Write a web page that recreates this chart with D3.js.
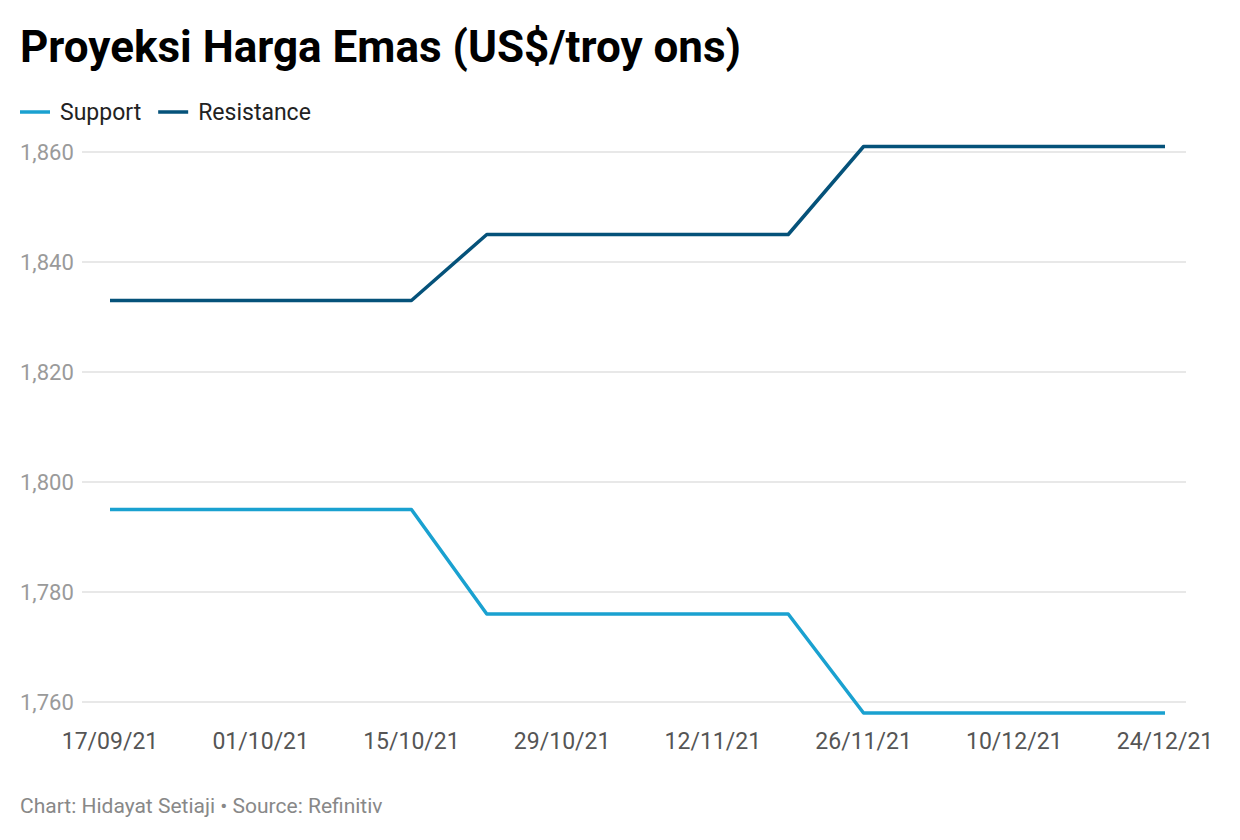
<!DOCTYPE html>
<html><head><meta charset="utf-8">
<script src="https://cdn.jsdelivr.net/npm/d3@7"></script>
<style>body{margin:0;background:#fff;font-family:Roboto,sans-serif}</style>
</head><body><svg id="c" width="1240" height="840"></svg>
<script>
const dates = ["17/09/21","24/09/21","01/10/21","08/10/21","15/10/21","22/10/21","29/10/21","05/11/21","12/11/21","19/11/21","26/11/21","03/12/21","10/12/21","17/12/21","24/12/21"];
const support = [1795,1795,1795,1795,1795,1776,1776,1776,1776,1776,1758,1758,1758,1758,1758];
const resistance = [1833,1833,1833,1833,1833,1845,1845,1845,1845,1845,1861,1861,1861,1861,1861];
const yTicks = [1760,1780,1800,1820,1840,1860];
const xTickLabels = ["17/09/21","01/10/21","15/10/21","29/10/21","12/11/21","26/11/21","10/12/21","24/12/21"];
const seriesNames = ["Support","Resistance"];
const colors = ["#1aa1d0","#05527a"];

const parse = d3.timeParse("%d/%m/%y");
const svg = d3.select("#c");
const x = d3.scaleTime().domain([parse(dates[0]), parse(dates[dates.length-1])]).range([110,1165]);
const y = d3.scaleLinear().domain([1760,1860]).range([702,152]);

svg.append("text").attr("x",20).attr("y",62).attr("font-size",44).attr("font-weight",700).attr("fill","#000").text("Proyeksi Harga Emas (US$/troy ons)");

let lx=20;
seriesNames.forEach((n,i)=>{
  svg.append("line").attr("x1",lx).attr("x2",lx+30).attr("y1",112).attr("y2",112).attr("stroke",colors[i]).attr("stroke-width",3.5);
  const t=svg.append("text").attr("x",lx+40).attr("y",120).attr("font-size",23).attr("fill","#222").text(n);
  lx += 40 + t.node().getComputedTextLength() + 17;
});

yTicks.forEach(v=>{
  svg.append("line").attr("x1",82).attr("x2",1186).attr("y1",y(v)).attr("y2",y(v)).attr("stroke","#e0e0e0").attr("stroke-width",1.5);
  svg.append("text").attr("x",20).attr("y",y(v)+8).attr("font-size",22).attr("fill","#9a9a9a").text(d3.format(",")(v));
});
xTickLabels.forEach(d=>{
  svg.append("text").attr("x",x(parse(d))).attr("y",749).attr("text-anchor","middle").attr("font-size",23).attr("fill","#555").text(d);
});

const line = d3.line().x((d,i)=>x(parse(dates[i]))).y(d=>y(d));
[support,resistance].forEach((s,i)=>{
  svg.append("path").attr("d",line(s)).attr("fill","none").attr("stroke",colors[i]).attr("stroke-width",3.5).attr("stroke-linejoin","round");
});

svg.append("text").attr("x",20).attr("y",813).attr("font-size",21).attr("fill","#888").text("Chart: Hidayat Setiaji • Source: Refinitiv");
</script></body></html>
